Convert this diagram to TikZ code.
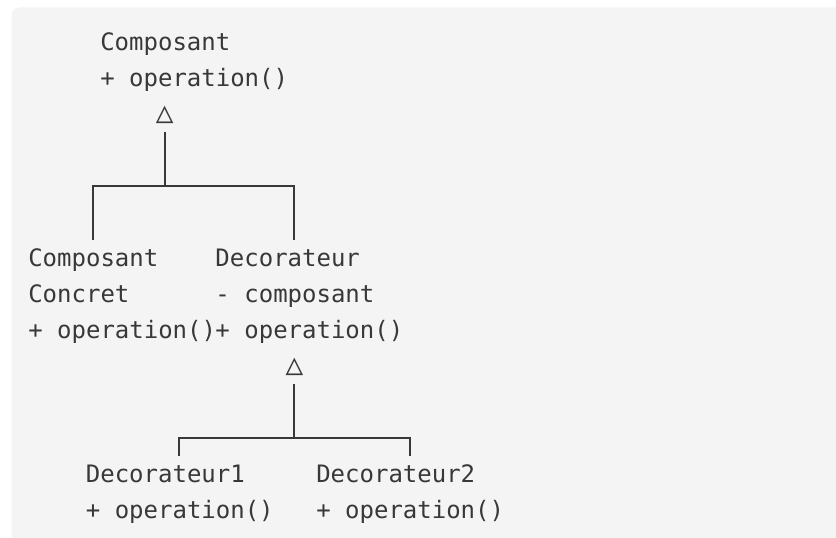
\documentclass[tikz,border=0pt]{standalone}
\usepackage{fontspec}
\newfontfamily\codefont{DejaVu Sans Mono}
\definecolor{panel}{HTML}{F4F4F4}
\definecolor{ink}{HTML}{383838}
\tikzset{
  cls/.style={anchor=base west, inner sep=0pt, text=ink,
              font=\codefont\fontsize{18}{27}\selectfont},
  gen/.style={inner sep=0pt, text=ink,
              font=\codefont\fontsize{22}{22}\selectfont},
  conn/.style={draw=ink, line width=1.4pt},
}
% a class box: one \hbox per line, 27pt apart, baseline on the first line
\newcommand\umlclass[1]{\vtop{\baselineskip=27pt\lineskiplimit=-10pt #1}}
\begin{document}
\begin{tikzpicture}[x=0.75pt,y=-0.75pt]
\useasboundingbox (0,0) rectangle (836,538);
\clip (0,0) rectangle (836,538);
\fill[panel, rounded corners=6pt] (11.5,7.5) rectangle (900,600);

% classes
\node[cls] (comp) at (100,51)   {\umlclass{\hbox{Composant}\hbox{+ operation()}}};
\node[cls] (cc)   at (28,267)   {\umlclass{\hbox{Composant}\hbox{Concret}\hbox{+ operation()}}};
\node[cls] (dec)  at (215.2,267){\umlclass{\hbox{Decorateur}\hbox{- composant}\hbox{+ operation()}}};
\node[cls] (d1)   at (85.6,483) {\umlclass{\hbox{Decorateur1}\hbox{+ operation()}}};
\node[cls] (d2)   at (316,483)  {\umlclass{\hbox{Decorateur2}\hbox{+ operation()}}};

% inheritance markers
\node[gen] (tri1) at (164.8,115) {△};
\node[gen] (tri2) at (294.4,367) {△};

% branch bars
\coordinate (bar1L) at (92.8,186);
\coordinate (bar1R) at (294.4,186);
\coordinate (bar2L) at (179.2,438);
\coordinate (bar2R) at (409.6,438);

\draw[conn] (tri1.center) ++(0,17) -- (tri1 |- bar1L);
\draw[conn] (bar1L) ++(0,54) -- (bar1L) -- (bar1R) -- ++(0,54);
\draw[conn] (tri2.center) ++(0,17) -- (tri2 |- bar2L);
\draw[conn] (bar2L) ++(0,18) -- (bar2L) -- (bar2R) -- ++(0,18);
\end{tikzpicture}
\end{document}
